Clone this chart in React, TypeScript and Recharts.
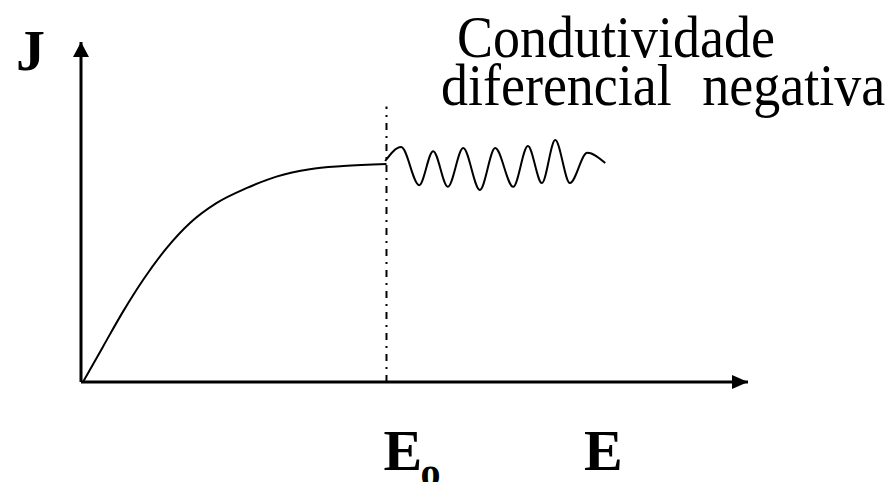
import React from 'react';
import { LineChart, Line, XAxis, YAxis, ReferenceLine, ReferenceDot } from 'recharts';

// J(E) curve, axis units 0..100 on both axes
const curveE = [0.3, 3.3, 6.3, 9.3, 12.8, 16.3, 20.3, 24.8, 29.3, 34.3, 39.3, 45.8];
const curveJ = [0, 10.4, 20.7, 30.0, 39.3, 46.7, 52.6, 57.0, 60.4, 62.6, 63.5, 64.1];

// oscillations past E0
const waveE = [45.6, 48.0, 50.7, 52.8, 55.0, 57.3, 59.8, 62.1, 64.8, 67.0, 69.1, 71.1, 73.3, 75.9, 78.6];
const waveJ = [65.0, 69.1, 57.9, 67.9, 57.4, 68.8, 56.5, 68.8, 57.4, 69.4, 58.5, 71.2, 58.5, 67.4, 64.4];

const E0 = 45.8;
const xTicks = [E0, 78.3];
const xTickLabels = ['E', 'E'];
const yTicks = [97];
const yTickLabels = ['J'];
const titleLines = ['Condutividade', 'diferencial negativa'];

const curve = curveE.map((e, i) => ({ e, j: curveJ[i] }));
const wave = waveE.map((e, i) => ({ e, j: waveJ[i] }));

const serif = '"Liberation Serif", "Times New Roman", serif';

function XTick(props: any) {
  const { x, index } = props;
  if (index === 0) {
    return (
      <g>
        <text x={x - 3} y={470} fontFamily={serif} fontWeight="bold" fontSize={58} fill="#000">{xTickLabels[0]}</text>
        <text x={x + 34} y={486} fontFamily={serif} fontWeight="bold" fontSize={40} fill="#000">o</text>
      </g>
    );
  }
  return (
    <text x={x} y={470} textAnchor="middle" fontFamily={serif} fontWeight="bold" fontSize={58} fill="#000">
      {xTickLabels[index]}
    </text>
  );
}

function YTick(props: any) {
  const { y, index } = props;
  return (
    <text x={16} y={y + 18} fontFamily={serif} fontWeight="bold" fontSize={58} fill="#000">
      {yTickLabels[index]}
    </text>
  );
}

function ArrowRight(props: any) {
  const { cx, cy } = props;
  return <polygon points={`${cx},${cy} ${cx - 16},${cy - 7} ${cx - 16},${cy + 7}`} fill="#000" />;
}

function ArrowUp(props: any) {
  const { cx, cy } = props;
  return <polygon points={`${cx},${cy} ${cx - 8},${cy + 15} ${cx + 8},${cy + 15}`} fill="#000" />;
}

export default function App() {
  return (
    <div style={{ position: 'absolute', left: 0, top: 0, width: 891, height: 482, background: '#fff' }}>
      <LineChart width={891} height={482} margin={{ top: 42, right: 143, bottom: 0, left: 0 }}>
        <XAxis
          type="number"
          dataKey="e"
          domain={[0, 100]}
          ticks={xTicks}
          tick={<XTick />}
          tickLine={false}
          height={100}
          axisLine={{ stroke: '#000', strokeWidth: 3 }}
          allowDataOverflow
        />
        <YAxis
          type="number"
          dataKey="j"
          domain={[0, 100]}
          ticks={yTicks}
          tick={<YTick />}
          tickLine={false}
          width={81}
          axisLine={{ stroke: '#000', strokeWidth: 3 }}
          allowDataOverflow
        />
        <ReferenceLine
          segment={[{ x: E0, y: 0 }, { x: E0, y: 81 }]}
          stroke="#000"
          strokeWidth={2}
          strokeDasharray="7 6 2 6"
        />
        <Line data={curve} dataKey="j" type="monotone" stroke="#000" strokeWidth={2} dot={false} isAnimationActive={false} />
        <Line data={wave} dataKey="j" type="monotone" stroke="#000" strokeWidth={2} dot={false} isAnimationActive={false} />
        <ReferenceDot x={100} y={0} ifOverflow="visible" shape={<ArrowRight />} />
        <ReferenceDot x={0} y={100} ifOverflow="visible" shape={<ArrowUp />} />
      </LineChart>
      <svg width={891} height={140} style={{ position: 'absolute', left: 0, top: 0, pointerEvents: 'none' }}>
        <g transform="translate(457,57) scale(1,1.1)">
          <text x={0} y={0} fontFamily={serif} fontSize={54} fill="#000">{titleLines[0]}</text>
        </g>
        <g transform="translate(441,105) scale(1,1.1)">
          <text x={0} y={0} fontFamily={serif} fontSize={54} wordSpacing={17} fill="#000">{titleLines[1]}</text>
        </g>
      </svg>
    </div>
  );
}
